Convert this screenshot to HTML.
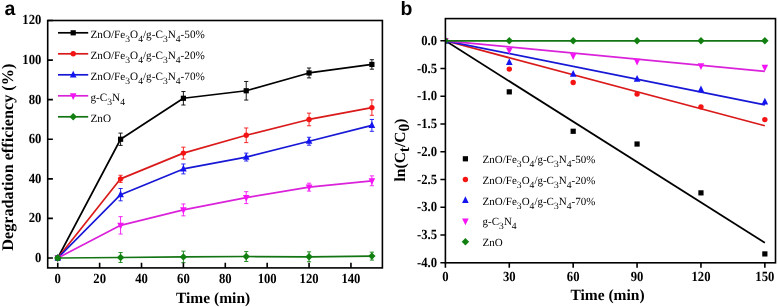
<!DOCTYPE html>
<html><head><meta charset="utf-8"><title>chart</title><style>html,body{margin:0;padding:0;background:#fff;}svg{display:block;text-rendering:geometricPrecision;filter:blur(0.35px);}</style></head><body><svg width="778" height="307" viewBox="0 0 778 307">
<rect width="778" height="307" fill="#fff"/>
<polyline points="57.75,258.00 120.58,139.25 183.40,98.28 246.23,90.76 309.05,72.95 371.88,64.44" fill="none" stroke="#000000" stroke-width="1.7" stroke-linejoin="round"/>
<polyline points="57.75,258.00 120.58,178.84 183.40,153.11 246.23,135.29 309.05,119.46 371.88,107.58" fill="none" stroke="#da1a1a" stroke-width="1.7" stroke-linejoin="round"/>
<polyline points="57.75,258.00 120.58,194.67 183.40,168.94 246.23,157.06 309.05,141.23 371.88,125.40" fill="none" stroke="#1717d6" stroke-width="1.7" stroke-linejoin="round"/>
<polyline points="57.75,258.00 120.58,225.35 183.40,209.91 246.23,197.64 309.05,187.15 371.88,180.82" fill="none" stroke="#da22da" stroke-width="1.7" stroke-linejoin="round"/>
<polyline points="57.75,258.00 120.58,257.51 183.40,256.92 246.23,256.52 309.05,256.82 371.88,256.12" fill="none" stroke="#137413" stroke-width="1.7" stroke-linejoin="round"/>
<path d="M120.58,133.12V145.39M118.48,133.12H122.68M118.48,145.39H122.68" stroke="#000000" stroke-width="0.9" fill="none"/>
<path d="M183.40,91.55V105.01M181.30,91.55H185.50M181.30,105.01H185.50" stroke="#000000" stroke-width="0.9" fill="none"/>
<path d="M246.23,81.46V100.06M244.13,81.46H248.33M244.13,100.06H248.33" stroke="#000000" stroke-width="0.9" fill="none"/>
<path d="M309.05,68.00V77.90M306.95,68.00H311.15M306.95,77.90H311.15" stroke="#000000" stroke-width="0.9" fill="none"/>
<path d="M371.88,59.69V69.19M369.78,59.69H373.98M369.78,69.19H373.98" stroke="#000000" stroke-width="0.9" fill="none"/>
<path d="M120.58,175.27V182.40M118.48,175.27H122.68M118.48,182.40H122.68" stroke="#f41414" stroke-width="0.9" fill="none"/>
<path d="M183.40,147.17V159.04M181.30,147.17H185.50M181.30,159.04H185.50" stroke="#f41414" stroke-width="0.9" fill="none"/>
<path d="M246.23,127.97V142.62M244.13,127.97H248.33M244.13,142.62H248.33" stroke="#f41414" stroke-width="0.9" fill="none"/>
<path d="M309.05,113.13V125.79M306.95,113.13H311.15M306.95,125.79H311.15" stroke="#f41414" stroke-width="0.9" fill="none"/>
<path d="M371.88,99.87V115.30M369.78,99.87H373.98M369.78,115.30H373.98" stroke="#f41414" stroke-width="0.9" fill="none"/>
<path d="M120.58,188.53V200.81M118.48,188.53H122.68M118.48,200.81H122.68" stroke="#1414f0" stroke-width="0.9" fill="none"/>
<path d="M183.40,163.99V173.89M181.30,163.99H185.50M181.30,173.89H185.50" stroke="#1414f0" stroke-width="0.9" fill="none"/>
<path d="M246.23,153.11V161.02M244.13,153.11H248.33M244.13,161.02H248.33" stroke="#1414f0" stroke-width="0.9" fill="none"/>
<path d="M309.05,137.27V145.19M306.95,137.27H311.15M306.95,145.19H311.15" stroke="#1414f0" stroke-width="0.9" fill="none"/>
<path d="M371.88,119.46V131.34M369.78,119.46H373.98M369.78,131.34H373.98" stroke="#1414f0" stroke-width="0.9" fill="none"/>
<path d="M120.58,216.64V234.06M118.48,216.64H122.68M118.48,234.06H122.68" stroke="#f414f4" stroke-width="0.9" fill="none"/>
<path d="M183.40,203.97V215.85M181.30,203.97H185.50M181.30,215.85H185.50" stroke="#f414f4" stroke-width="0.9" fill="none"/>
<path d="M246.23,191.70V203.58M244.13,191.70H248.33M244.13,203.58H248.33" stroke="#f414f4" stroke-width="0.9" fill="none"/>
<path d="M309.05,183.19V191.11M306.95,183.19H311.15M306.95,191.11H311.15" stroke="#f414f4" stroke-width="0.9" fill="none"/>
<path d="M371.88,175.87V185.76M369.78,175.87H373.98M369.78,185.76H373.98" stroke="#f414f4" stroke-width="0.9" fill="none"/>
<path d="M120.58,252.56V262.46M118.48,252.56H122.68M118.48,262.46H122.68" stroke="#118011" stroke-width="0.9" fill="none"/>
<path d="M183.40,251.18V262.66M181.30,251.18H185.50M181.30,262.66H185.50" stroke="#118011" stroke-width="0.9" fill="none"/>
<path d="M246.23,251.57V261.47M244.13,251.57H248.33M244.13,261.47H248.33" stroke="#118011" stroke-width="0.9" fill="none"/>
<path d="M309.05,251.87V261.76M306.95,251.87H311.15M306.95,261.76H311.15" stroke="#118011" stroke-width="0.9" fill="none"/>
<path d="M371.88,252.17V260.08M369.78,252.17H373.98M369.78,260.08H373.98" stroke="#118011" stroke-width="0.9" fill="none"/>
<rect x="55.15" y="255.40" width="5.20" height="5.20" fill="#000000"/>
<rect x="117.98" y="136.65" width="5.20" height="5.20" fill="#000000"/>
<rect x="180.80" y="95.68" width="5.20" height="5.20" fill="#000000"/>
<rect x="243.63" y="88.16" width="5.20" height="5.20" fill="#000000"/>
<rect x="306.45" y="70.35" width="5.20" height="5.20" fill="#000000"/>
<rect x="369.28" y="61.84" width="5.20" height="5.20" fill="#000000"/>
<circle cx="57.75" cy="258.00" r="2.70" fill="#f41414"/>
<circle cx="120.58" cy="178.84" r="2.70" fill="#f41414"/>
<circle cx="183.40" cy="153.11" r="2.70" fill="#f41414"/>
<circle cx="246.23" cy="135.29" r="2.70" fill="#f41414"/>
<circle cx="309.05" cy="119.46" r="2.70" fill="#f41414"/>
<circle cx="371.88" cy="107.58" r="2.70" fill="#f41414"/>
<polygon points="57.75,253.90 61.05,260.60 54.45,260.60" fill="#1414f0"/>
<polygon points="120.58,190.57 123.88,197.27 117.28,197.27" fill="#1414f0"/>
<polygon points="183.40,164.84 186.70,171.54 180.10,171.54" fill="#1414f0"/>
<polygon points="246.23,152.96 249.53,159.66 242.93,159.66" fill="#1414f0"/>
<polygon points="309.05,137.13 312.35,143.83 305.75,143.83" fill="#1414f0"/>
<polygon points="371.88,121.30 375.18,128.00 368.58,128.00" fill="#1414f0"/>
<polygon points="57.75,262.10 61.05,255.40 54.45,255.40" fill="#f414f4"/>
<polygon points="120.58,229.45 123.88,222.75 117.28,222.75" fill="#f414f4"/>
<polygon points="183.40,214.01 186.70,207.31 180.10,207.31" fill="#f414f4"/>
<polygon points="246.23,201.74 249.53,195.04 242.93,195.04" fill="#f414f4"/>
<polygon points="309.05,191.25 312.35,184.55 305.75,184.55" fill="#f414f4"/>
<polygon points="371.88,184.92 375.18,178.22 368.58,178.22" fill="#f414f4"/>
<circle cx="57.75" cy="258.00" r="2.9" fill="#107010"/>
<polygon points="57.75,254.30 61.45,258.00 57.75,261.70 54.05,258.00" fill="#118011"/>
<polygon points="120.58,253.81 124.28,257.51 120.58,261.21 116.88,257.51" fill="#118011"/>
<polygon points="183.40,253.22 187.10,256.92 183.40,260.62 179.70,256.92" fill="#118011"/>
<polygon points="246.23,252.82 249.93,256.52 246.23,260.22 242.53,256.52" fill="#118011"/>
<polygon points="309.05,253.12 312.75,256.82 309.05,260.52 305.35,256.82" fill="#118011"/>
<polygon points="371.88,252.42 375.58,256.12 371.88,259.82 368.18,256.12" fill="#118011"/>
<rect x="47.7" y="20.5" width="334.70" height="247.40" fill="none" stroke="#000" stroke-width="1.6"/>
<path d="M57.75,267.9V262.70M99.63,267.9V262.70M141.52,267.9V262.70M183.40,267.9V262.70M225.29,267.9V262.70M267.17,267.9V262.70M309.05,267.9V262.70M350.94,267.9V262.70M47.7,258.00H52.90M47.7,218.42H52.90M47.7,178.84H52.90M47.7,139.25H52.90M47.7,99.67H52.90M47.7,60.08H52.90M47.7,20.50H52.90" stroke="#000" stroke-width="1.6" fill="none"/>
<g font-family="'Liberation Serif', serif" font-weight="bold" font-size="12.7" fill="#000">
<text transform="translate(57.75,283.1) scale(1,1.1)" text-anchor="middle">0</text>
<text transform="translate(99.63,283.1) scale(1,1.1)" text-anchor="middle">20</text>
<text transform="translate(141.52,283.1) scale(1,1.1)" text-anchor="middle">40</text>
<text transform="translate(183.40,283.1) scale(1,1.1)" text-anchor="middle">60</text>
<text transform="translate(225.29,283.1) scale(1,1.1)" text-anchor="middle">80</text>
<text transform="translate(267.17,283.1) scale(1,1.1)" text-anchor="middle">100</text>
<text transform="translate(309.05,283.1) scale(1,1.1)" text-anchor="middle">120</text>
<text transform="translate(350.94,283.1) scale(1,1.1)" text-anchor="middle">140</text>
<text transform="translate(41.4,261.90) scale(1,1.1)" text-anchor="end">0</text>
<text transform="translate(41.4,222.32) scale(1,1.1)" text-anchor="end">20</text>
<text transform="translate(41.4,182.74) scale(1,1.1)" text-anchor="end">40</text>
<text transform="translate(41.4,143.15) scale(1,1.1)" text-anchor="end">60</text>
<text transform="translate(41.4,103.57) scale(1,1.1)" text-anchor="end">80</text>
<text transform="translate(41.4,63.98) scale(1,1.1)" text-anchor="end">100</text>
<text transform="translate(41.4,24.40) scale(1,1.1)" text-anchor="end">120</text>
</g>
<text x="213.1" y="303.0" text-anchor="middle" font-family="'Liberation Serif', serif" font-weight="bold" font-size="15.5">Time (min)</text>
<text transform="translate(13.2,157.2) rotate(-90)" text-anchor="middle" font-family="'Liberation Serif', serif" font-weight="bold" font-size="16.2">Degradation efficiency (%)</text>
<line x1="58" y1="32.80" x2="88.2" y2="32.80" stroke="#000000" stroke-width="1.7"/>
<rect x="70.60" y="30.20" width="5.20" height="5.20" fill="#000000"/>
<text x="90.5" y="37.70" font-family="'Liberation Serif', serif" font-size="11.2" fill="#000">ZnO/Fe<tspan baseline-shift="-4.3" font-size="9.6">3</tspan>O<tspan baseline-shift="-4.3" font-size="9.6">4</tspan>/g-C<tspan baseline-shift="-4.3" font-size="9.6">3</tspan>N<tspan baseline-shift="-4.3" font-size="9.6">4</tspan>-50%</text>
<line x1="58" y1="53.80" x2="88.2" y2="53.80" stroke="#da1a1a" stroke-width="1.7"/>
<circle cx="73.20" cy="53.80" r="2.70" fill="#f41414"/>
<text x="90.5" y="58.70" font-family="'Liberation Serif', serif" font-size="11.2" fill="#000">ZnO/Fe<tspan baseline-shift="-4.3" font-size="9.6">3</tspan>O<tspan baseline-shift="-4.3" font-size="9.6">4</tspan>/g-C<tspan baseline-shift="-4.3" font-size="9.6">3</tspan>N<tspan baseline-shift="-4.3" font-size="9.6">4</tspan>-20%</text>
<line x1="58" y1="74.80" x2="88.2" y2="74.80" stroke="#1717d6" stroke-width="1.7"/>
<polygon points="73.20,70.70 76.50,77.40 69.90,77.40" fill="#1414f0"/>
<text x="90.5" y="79.70" font-family="'Liberation Serif', serif" font-size="11.2" fill="#000">ZnO/Fe<tspan baseline-shift="-4.3" font-size="9.6">3</tspan>O<tspan baseline-shift="-4.3" font-size="9.6">4</tspan>/g-C<tspan baseline-shift="-4.3" font-size="9.6">3</tspan>N<tspan baseline-shift="-4.3" font-size="9.6">4</tspan>-70%</text>
<line x1="58" y1="95.80" x2="88.2" y2="95.80" stroke="#da22da" stroke-width="1.7"/>
<polygon points="73.20,99.90 76.50,93.20 69.90,93.20" fill="#f414f4"/>
<text x="90.5" y="100.70" font-family="'Liberation Serif', serif" font-size="11.2" fill="#000">g-C<tspan baseline-shift="-4.3" font-size="9.6">3</tspan>N<tspan baseline-shift="-4.3" font-size="9.6">4</tspan></text>
<line x1="58" y1="116.80" x2="88.2" y2="116.80" stroke="#137413" stroke-width="1.7"/>
<polygon points="73.20,113.10 76.90,116.80 73.20,120.50 69.50,116.80" fill="#118011"/>
<text x="90.5" y="121.70" font-family="'Liberation Serif', serif" font-size="11.2" fill="#000">ZnO</text>
<text x="4.5" y="15.2" font-family="'Liberation Sans', sans-serif" font-weight="bold" font-size="19.5">a</text>
<clipPath id="cb"><rect x="445.4" y="18.6" width="330.10" height="244.20"/></clipPath>
<g clip-path="url(#cb)">
<line x1="445.40" y1="40.80" x2="764.85" y2="242.82" stroke="#000000" stroke-width="1.7"/>
<line x1="445.40" y1="40.80" x2="764.85" y2="125.72" stroke="#da1a1a" stroke-width="1.7"/>
<line x1="445.40" y1="40.80" x2="764.85" y2="104.90" stroke="#1717d6" stroke-width="1.7"/>
<line x1="445.40" y1="40.80" x2="764.85" y2="71.32" stroke="#da22da" stroke-width="1.7"/>
<line x1="445.40" y1="40.80" x2="764.85" y2="40.80" stroke="#137413" stroke-width="1.7"/>
<rect x="442.80" y="38.20" width="5.20" height="5.20" fill="#000000"/>
<rect x="506.69" y="89.26" width="5.20" height="5.20" fill="#000000"/>
<rect x="570.58" y="128.67" width="5.20" height="5.20" fill="#000000"/>
<rect x="634.47" y="141.43" width="5.20" height="5.20" fill="#000000"/>
<rect x="698.36" y="190.27" width="5.20" height="5.20" fill="#000000"/>
<rect x="762.25" y="251.32" width="5.20" height="5.20" fill="#000000"/>
<circle cx="445.40" cy="40.80" r="2.70" fill="#f41414"/>
<circle cx="509.29" cy="69.10" r="2.70" fill="#f41414"/>
<circle cx="573.18" cy="82.43" r="2.70" fill="#f41414"/>
<circle cx="637.07" cy="94.08" r="2.70" fill="#f41414"/>
<circle cx="700.96" cy="106.84" r="2.70" fill="#f41414"/>
<circle cx="764.85" cy="119.61" r="2.70" fill="#f41414"/>
<polygon points="445.40,36.70 448.70,43.40 442.10,43.40" fill="#1414f0"/>
<polygon points="509.29,58.35 512.59,65.05 505.99,65.05" fill="#1414f0"/>
<polygon points="573.18,70.00 576.48,76.70 569.88,76.70" fill="#1414f0"/>
<polygon points="637.07,75.00 640.37,81.70 633.77,81.70" fill="#1414f0"/>
<polygon points="700.96,85.54 704.26,92.24 697.66,92.24" fill="#1414f0"/>
<polygon points="764.85,97.75 768.15,104.45 761.55,104.45" fill="#1414f0"/>
<polygon points="445.40,44.90 448.70,38.20 442.10,38.20" fill="#f414f4"/>
<polygon points="509.29,54.34 512.59,47.64 505.99,47.64" fill="#f414f4"/>
<polygon points="573.18,59.88 576.48,53.18 569.88,53.18" fill="#f414f4"/>
<polygon points="637.07,65.44 640.37,58.74 633.77,58.74" fill="#f414f4"/>
<polygon points="700.96,69.88 704.26,63.18 697.66,63.18" fill="#f414f4"/>
<polygon points="764.85,71.54 768.15,64.84 761.55,64.84" fill="#f414f4"/>
<polygon points="445.40,37.10 449.10,40.80 445.40,44.50 441.70,40.80" fill="#118011"/>
<polygon points="509.29,37.10 512.99,40.80 509.29,44.50 505.59,40.80" fill="#118011"/>
<polygon points="573.18,37.10 576.88,40.80 573.18,44.50 569.48,40.80" fill="#118011"/>
<polygon points="637.07,37.10 640.77,40.80 637.07,44.50 633.37,40.80" fill="#118011"/>
<polygon points="700.96,37.10 704.66,40.80 700.96,44.50 697.26,40.80" fill="#118011"/>
<polygon points="764.85,37.10 768.55,40.80 764.85,44.50 761.15,40.80" fill="#118011"/>
</g>
<rect x="445.4" y="18.6" width="330.10" height="244.20" fill="none" stroke="#000" stroke-width="1.6"/>
<path d="M445.40,262.8V267.80M509.29,262.8V267.80M573.18,262.8V267.80M637.07,262.8V267.80M700.96,262.8V267.80M764.85,262.8V267.80M445.4,40.80H440.40M445.4,68.55H440.40M445.4,96.30H440.40M445.4,124.05H440.40M445.4,151.80H440.40M445.4,179.55H440.40M445.4,207.30H440.40M445.4,235.05H440.40M445.4,262.80H440.40" stroke="#000" stroke-width="1.6" fill="none"/>
<g font-family="'Liberation Serif', serif" font-weight="bold" font-size="12.7" fill="#000">
<text transform="translate(445.40,281.0) scale(1,1.1)" text-anchor="middle">0</text>
<text transform="translate(509.29,281.0) scale(1,1.1)" text-anchor="middle">30</text>
<text transform="translate(573.18,281.0) scale(1,1.1)" text-anchor="middle">60</text>
<text transform="translate(637.07,281.0) scale(1,1.1)" text-anchor="middle">90</text>
<text transform="translate(700.96,281.0) scale(1,1.1)" text-anchor="middle">120</text>
<text transform="translate(764.85,281.0) scale(1,1.1)" text-anchor="middle">150</text>
<text transform="translate(437.0,44.80) scale(1,1.1)" text-anchor="end">0.0</text>
<text transform="translate(437.0,72.55) scale(1,1.1)" text-anchor="end">-0.5</text>
<text transform="translate(437.0,100.30) scale(1,1.1)" text-anchor="end">-1.0</text>
<text transform="translate(437.0,128.05) scale(1,1.1)" text-anchor="end">-1.5</text>
<text transform="translate(437.0,155.80) scale(1,1.1)" text-anchor="end">-2.0</text>
<text transform="translate(437.0,183.55) scale(1,1.1)" text-anchor="end">-2.5</text>
<text transform="translate(437.0,211.30) scale(1,1.1)" text-anchor="end">-3.0</text>
<text transform="translate(437.0,239.05) scale(1,1.1)" text-anchor="end">-3.5</text>
<text transform="translate(437.0,266.80) scale(1,1.1)" text-anchor="end">-4.0</text>
</g>
<text x="607.5" y="300.0" text-anchor="middle" font-family="'Liberation Serif', serif" font-weight="bold" font-size="15.5">Time (min)</text>
<text transform="translate(404.6,150.0) rotate(-90)" text-anchor="middle" font-family="'Liberation Serif', serif" font-weight="bold" font-size="15.5">ln(C<tspan baseline-shift="-3.7">t</tspan><tspan>/C</tspan><tspan baseline-shift="-3.7">0</tspan>)</text>
<rect x="462.80" y="156.20" width="5.20" height="5.20" fill="#000000"/>
<text x="482.6" y="163.20" font-family="'Liberation Serif', serif" font-size="11.0" fill="#000">ZnO/Fe<tspan baseline-shift="-4.3" font-size="9.6">3</tspan>O<tspan baseline-shift="-4.3" font-size="9.6">4</tspan>/g-C<tspan baseline-shift="-4.3" font-size="9.6">3</tspan>N<tspan baseline-shift="-4.3" font-size="9.6">4</tspan>-50%</text>
<circle cx="465.40" cy="179.55" r="2.70" fill="#f41414"/>
<text x="482.6" y="183.95" font-family="'Liberation Serif', serif" font-size="11.0" fill="#000">ZnO/Fe<tspan baseline-shift="-4.3" font-size="9.6">3</tspan>O<tspan baseline-shift="-4.3" font-size="9.6">4</tspan>/g-C<tspan baseline-shift="-4.3" font-size="9.6">3</tspan>N<tspan baseline-shift="-4.3" font-size="9.6">4</tspan>-20%</text>
<polygon points="465.40,196.20 468.70,202.90 462.10,202.90" fill="#1414f0"/>
<text x="482.6" y="204.70" font-family="'Liberation Serif', serif" font-size="11.0" fill="#000">ZnO/Fe<tspan baseline-shift="-4.3" font-size="9.6">3</tspan>O<tspan baseline-shift="-4.3" font-size="9.6">4</tspan>/g-C<tspan baseline-shift="-4.3" font-size="9.6">3</tspan>N<tspan baseline-shift="-4.3" font-size="9.6">4</tspan>-70%</text>
<polygon points="465.40,225.15 468.70,218.45 462.10,218.45" fill="#f414f4"/>
<text x="482.6" y="225.45" font-family="'Liberation Serif', serif" font-size="11.0" fill="#000">g-C<tspan baseline-shift="-4.3" font-size="9.6">3</tspan>N<tspan baseline-shift="-4.3" font-size="9.6">4</tspan></text>
<polygon points="465.40,238.10 469.10,241.80 465.40,245.50 461.70,241.80" fill="#118011"/>
<text x="482.6" y="246.20" font-family="'Liberation Serif', serif" font-size="11.0" fill="#000">ZnO</text>
<text x="400.6" y="15.2" font-family="'Liberation Sans', sans-serif" font-weight="bold" font-size="19.5">b</text>
</svg></body></html>
